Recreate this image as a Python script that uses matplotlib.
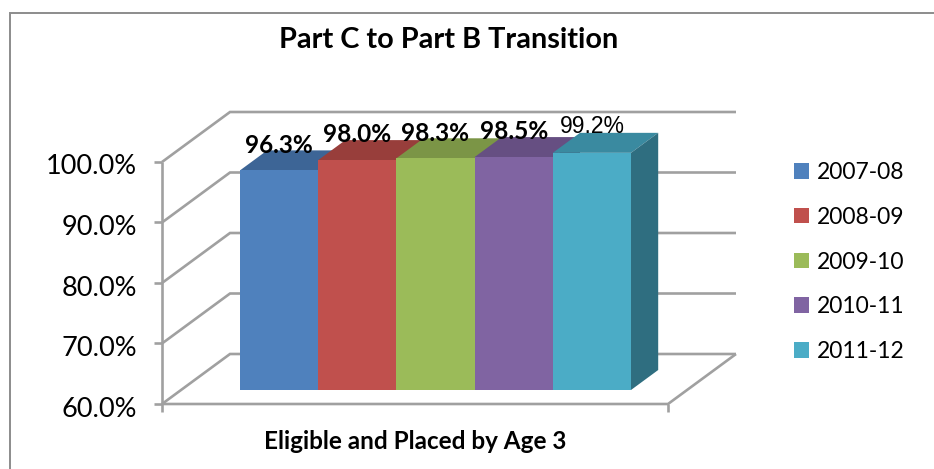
import matplotlib
matplotlib.use("Agg")
import matplotlib.pyplot as plt
from matplotlib.patches import Patch
from matplotlib.lines import Line2D

# ---- data ----
title = "Part C to Part B Transition"
category = "Eligible and Placed by Age 3"
series = ["2007-08", "2008-09", "2009-10", "2010-11", "2011-12"]
values = [96.3, 98.0, 98.3, 98.5, 99.2]
y_ticks = [60, 70, 80, 90, 100]
y_labels = ["60.0%", "70.0%", "80.0%", "90.0%", "100.0%"]

front = ["#4F81BD", "#C0504D", "#9BBB59", "#8064A2", "#4BACC6"]
top = ["#3D6596", "#983E3B", "#7B9546", "#664F82", "#3A8AA0"]
side = ["#2F4D73", "#73302E", "#5D7135", "#4C3B61", "#2F6E80"]
GRID = "#A0A0A0"

W, H = 934, 469
fig = plt.figure(figsize=(W / 100, H / 100), dpi=100, facecolor="white")
ax = fig.add_axes([0, 0, 1, 1])
plt.rcParams["font.family"] = ["Lato", "DejaVu Sans"]

# axis scale: category span 0..1 = px 162..668; value 60..100 = px 404..162
px_x = 1 / 506
px_y = 40 / 242
ax.set_xlim(-162 * px_x, (W - 162) * px_x)
ax.set_ylim(60 - (H - 404) * px_y, 60 + 404 * px_y)
ax.axis("off")

# oblique depth of the chart box
DX = 68 * px_x
DY = 50 * px_y
def P(x, v, d=0.0):
    return x + d * DX, v + d * DY

def line(pts, **kw):
    ax.plot([p[0] for p in pts], [p[1] for p in pts], color=GRID, lw=1.9,
            solid_capstyle="butt", solid_joinstyle="miter", zorder=1, **kw)

# walls and floor
for v in y_ticks:
    line([P(0, v), P(0, v, 1), P(1, v, 1)])
    line([(-8 * px_x, v), (0, v)])
line([P(0, 60), P(0, 100)])
line([P(0, 60), P(1, 60), P(1, 60, 1)])
line([(0, 60), (0, 60 - 8 * px_y)])
line([(1, 60), (1, 60 - 8 * px_y)])

# bars: five series in a single category
D0, D1 = 14 / 50, 34 / 50
left = (240 - 162 - D0 * 68) * px_x
bw = (391 / 5) * px_x
for i, v in enumerate(values):
    x0 = left + i * bw
    x1 = x0 + bw
    ax.fill(*zip(P(x0, v, D0), P(x1, v, D0), P(x1, v, D1), P(x0, v, D1)),
            color=top[i], lw=0, zorder=2 + i)
    ax.fill(*zip(P(x1, 60, D0), P(x1, 60, D1), P(x1, v, D1), P(x1, v, D0)),
            color=side[i], lw=0, zorder=2 + i)
    bx, by = P(x0, 60, D0)
    ax.bar(bx, v - 60, width=bw, bottom=by, align="edge", color=front[i],
           lw=0, zorder=2 + i)
    cx, cy = P(x0 + bw / 2, v, D0)
    last = i == len(values) - 1
    ax.annotate(f"{v:.1f}%", (cx, cy), xytext=(0, 19.0 if last else 18.1),
                textcoords="offset points",
                ha="center", va="center", zorder=20,
                fontsize=16.5 if last else 17.6,
                fontweight="normal" if last else "bold",
                family="Liberation Sans" if last else "Lato", color="black")

# tick labels
for v, s in zip(y_ticks, y_labels):
    ax.annotate(s, (0, v), xytext=(-18, -3.6), textcoords="offset points",
                ha="right", va="center", fontsize=19.5, color="black")

# title and category label
fig.text(449 / W, 1 - 40 / H, title, ha="center", va="center",
         fontsize=20.8, fontweight="bold", color="black")
fig.text(415 / W, 1 - 441 / H, category, ha="center", va="center",
         fontsize=17.5, fontweight="bold", color="black")

# legend
handles = [Patch(facecolor=c, edgecolor="none", label=s) for c, s in zip(front, series)]
ax.legend(handles=handles, loc="center left", bbox_to_anchor=(794 / W, 1 - 262 / H),
          bbox_transform=fig.transFigure, frameon=False, fontsize=16.5,
          handlelength=0.66, handleheight=0.66, handletextpad=0.32,
          labelspacing=1.036, borderpad=0, borderaxespad=0)

# outer chart frame: left and top edges only reach the picture
fig.add_artist(Line2D([9.5 / W, 9.5 / W, 1], [0, 1 - 13.5 / H, 1 - 13.5 / H],
                      transform=fig.transFigure, color="#8C8C8C", lw=1.4,
                      solid_joinstyle="miter"))

fig.savefig("out.png", dpi=100)
